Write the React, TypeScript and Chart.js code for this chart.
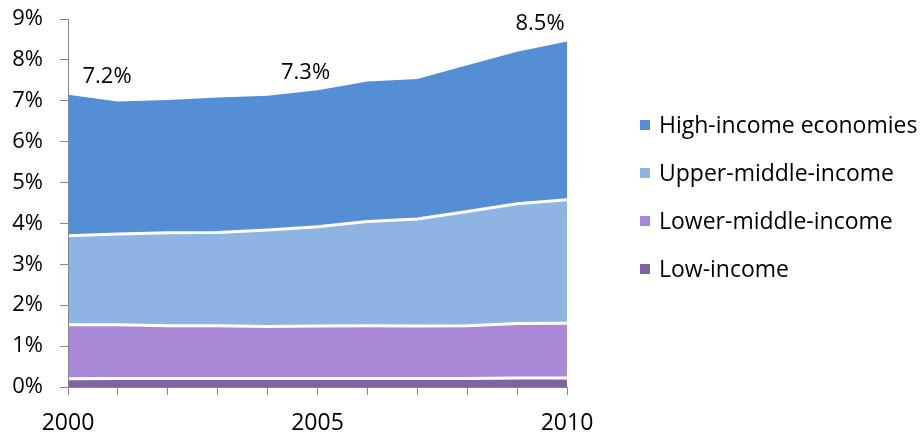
import React, { useEffect, useRef } from "react";
import { Chart, registerables } from "chart.js";

Chart.register(...registerables);

const years = ["2000", "2001", "2002", "2003", "2004", "2005", "2006", "2007", "2008", "2009", "2010"];
const lowIncome = [0.2, 0.21, 0.21, 0.21, 0.21, 0.21, 0.21, 0.21, 0.21, 0.22, 0.22];
const lowerMiddleIncome = [1.32, 1.31, 1.29, 1.29, 1.27, 1.28, 1.29, 1.28, 1.29, 1.33, 1.34];
const upperMiddleIncome = [2.18, 2.22, 2.27, 2.28, 2.36, 2.43, 2.55, 2.62, 2.79, 2.93, 3.02];
const highIncome = [3.45, 3.24, 3.25, 3.3, 3.28, 3.34, 3.42, 3.42, 3.58, 3.72, 3.87];
const seriesNames = ["Low-income", "Lower-middle-income", "Upper-middle-income", "High-income economies"];
const seriesColors = ["#8064A2", "#AA88D8", "#8EB4E3", "#558ED5"];
const calloutYears = ["2000", "2005", "2010"];
const calloutTexts = ["7.2%", "7.3%", "8.5%"];
const labeledYears = ["2000", "2005", "2010"];

const FONT = "'Open Sans', 'Noto Sans', sans-serif";

const calloutPlugin = {
  id: "callouts",
  afterDatasetsDraw(chart: any) {
    const { ctx, scales, chartArea } = chart;
    // redraw the left axis line so the white separators do not cut it
    ctx.save();
    ctx.strokeStyle = "#868686";
    ctx.lineWidth = 1;
    ctx.beginPath();
    const ax = Math.round(chartArea.left) + 0.5;
    ctx.moveTo(ax, chartArea.top);
    ctx.lineTo(ax, chartArea.bottom);
    ctx.stroke();
    ctx.restore();

    const offsets = [
      { dx: 39, dy: -18 },
      { dx: -12, dy: -17 },
      { dx: -27, dy: -18 },
    ];
    const all = [lowIncome, lowerMiddleIncome, upperMiddleIncome, highIncome];
    ctx.save();
    ctx.font = `22px ${FONT}`;
    ctx.fillStyle = "#000";
    ctx.textAlign = "center";
    ctx.textBaseline = "middle";
    calloutYears.forEach((yr, i) => {
      const idx = years.indexOf(yr);
      const total = all.reduce((s, arr) => s + arr[idx], 0);
      const px = scales.x.getPixelForValue(idx);
      const py = scales.y.getPixelForValue(total);
      ctx.fillText(calloutTexts[i], px + offsets[i].dx, py + offsets[i].dy);
    });
    ctx.restore();
  },
};

const legendPlugin = {
  id: "sideLegend",
  afterDraw(chart: any) {
    const { ctx, chartArea } = chart;
    const x0 = chartArea.right + 73;
    const y0 = 125;
    const step = 48;
    ctx.save();
    ctx.font = `23px ${FONT}`;
    ctx.textAlign = "left";
    ctx.textBaseline = "middle";
    for (let k = 0; k < seriesNames.length; k++) {
      const i = seriesNames.length - 1 - k;
      const cy = y0 + k * step;
      ctx.fillStyle = seriesColors[i];
      ctx.fillRect(x0, cy - 5, 10, 10);
      ctx.fillStyle = "#000";
      ctx.fillText(seriesNames[i], x0 + 19, cy + 1);
    }
    ctx.restore();
  },
};

export default function App() {
  const canvasRef = useRef<HTMLCanvasElement | null>(null);

  useEffect(() => {
    document.body.style.margin = "0";
    const canvas = canvasRef.current;
    if (!canvas) return;
    const data = [lowIncome, lowerMiddleIncome, upperMiddleIncome, highIncome];
    const chart = new Chart(canvas, {
      type: "line",
      data: {
        labels: years,
        datasets: data.map((d, i) => ({
          label: seriesNames[i],
          data: d,
          backgroundColor: seriesColors[i],
          borderColor: "#FFFFFF",
          borderWidth: i === data.length - 1 ? 0 : 3,
          pointRadius: 0,
          pointHoverRadius: 0,
          tension: 0,
          fill: i === 0 ? "origin" : "-1",
        })),
      },
      options: {
        animation: false,
        responsive: true,
        maintainAspectRatio: false,
        layout: { padding: { left: 8, top: 19, right: 354, bottom: 0 } },
        plugins: {
          tooltip: { enabled: false },
          legend: { display: false },
        },
        scales: {
          x: {
            type: "category",
            offset: false,
            afterFit: (s: any) => {
              s.height = 48;
              s.paddingLeft = 0;
              s.paddingRight = 0;
            },
            grid: { display: true, drawOnChartArea: false, drawTicks: true, tickLength: 8, color: "#868686" },
            border: { display: true, color: "#868686", width: 1 },
            ticks: {
              autoSkip: false,
              maxRotation: 0,
              padding: 15,
              color: "#000",
              font: { size: 23, family: FONT },
              callback: (_v: any, i: number) => (labeledYears.includes(years[i]) ? years[i] : ""),
            },
          },
          y: {
            stacked: true,
            min: 0,
            max: 9,
            afterFit: (s: any) => {
              s.width = 60;
              s.paddingTop = 0;
              s.paddingBottom = 0;
            },
            grid: { display: true, drawOnChartArea: false, drawTicks: true, tickLength: 8, color: "#868686" },
            border: { display: true, color: "#868686", width: 1 },
            ticks: {
              stepSize: 1,
              padding: 17,
              color: "#000",
              font: { size: 22, family: FONT },
              callback: (v: any) => `${v}%`,
            },
          },
        },
      },
      plugins: [calloutPlugin, legendPlugin],
    } as any);
    return () => chart.destroy();
  }, []);

  return (
    <div style={{ width: 921, height: 435, position: "relative" }}>
      <canvas ref={canvasRef} />
    </div>
  );
}
